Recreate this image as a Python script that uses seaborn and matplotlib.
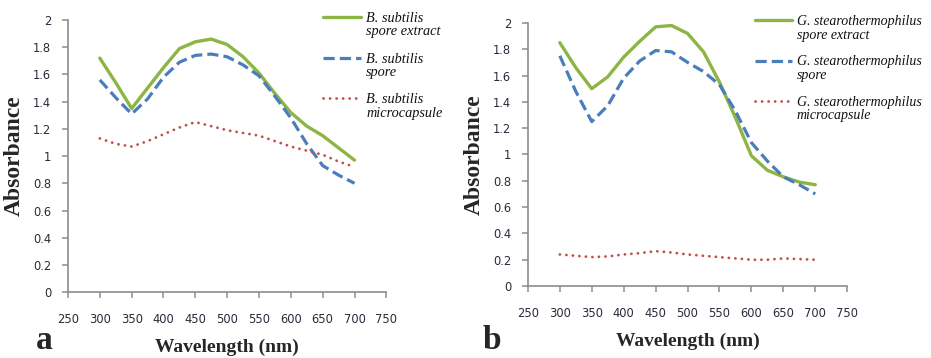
import numpy as np
import pandas as pd
import seaborn as sns
import matplotlib.pyplot as plt
from matplotlib.ticker import FormatStrFormatter

# wavelength grid (nm)
wavelength = [300, 325, 350, 375, 400, 425, 450, 475, 500, 525, 550, 575, 600, 625, 650, 675, 700]

# panel a: B. subtilis
a_extract = [1.72, 1.54, 1.35, 1.50, 1.65, 1.79, 1.84, 1.86, 1.82, 1.73, 1.61, 1.46, 1.32, 1.22, 1.15, 1.06, 0.97]
a_spore = [1.56, 1.43, 1.31, 1.42, 1.58, 1.69, 1.74, 1.75, 1.73, 1.67, 1.59, 1.44, 1.28, 1.09, 0.93, 0.86, 0.80]
a_micro = [1.13, 1.09, 1.07, 1.11, 1.16, 1.21, 1.25, 1.22, 1.19, 1.17, 1.15, 1.11, 1.07, 1.04, 1.01, 0.96, 0.92]

# panel b: G. stearothermophilus
b_extract = [1.85, 1.66, 1.50, 1.59, 1.74, 1.86, 1.97, 1.98, 1.92, 1.78, 1.55, 1.28, 0.99, 0.88, 0.83, 0.79, 0.77]
b_spore = [1.75, 1.48, 1.25, 1.37, 1.58, 1.71, 1.79, 1.78, 1.70, 1.63, 1.53, 1.33, 1.09, 0.95, 0.83, 0.77, 0.70]
b_micro = [0.24, 0.23, 0.22, 0.225, 0.24, 0.25, 0.265, 0.255, 0.24, 0.23, 0.22, 0.21, 0.20, 0.20, 0.21, 0.205, 0.20]

a_labels = ["B. subtilis\nspore extract", "B. subtilis\nspore", "B. subtilis\nmicrocapsule"]
b_labels = ["G. stearothermophilus\nspore extract", "G. stearothermophilus\nspore",
            "G. stearothermophilus\nmicrocapsule"]

colors = ["#8db543", "#4a7ebb", "#c0504d"]
styles = ["-", (0, (3.5, 1.6)), (0, (0.05, 2.3))]
widths = [2.4, 2.3, 2.0]

sns.set_style("ticks")
serif = ["Liberation Serif", "DejaVu Serif"]


def draw_panel(ax, series, labels, letter, letter_x, legend_x, legend_size):
    for vals, lab, col, ls, lw in zip(series, labels, colors, styles, widths):
        df = pd.DataFrame({"wavelength": wavelength, "abs": vals})
        sns.lineplot(data=df, x="wavelength", y="abs", ax=ax, color=col, label=lab,
                     linewidth=lw, linestyle=ls, solid_capstyle="round",
                     solid_joinstyle="round",
                     dash_capstyle="round" if ls == styles[2] else "butt")
    ax.set_xlim(250, 750)
    ax.set_ylim(0, 2)
    ax.set_xticks(np.arange(250, 751, 50))
    ax.set_yticks(np.arange(0, 2.01, 0.2))
    ax.yaxis.set_major_formatter(FormatStrFormatter("%g"))
    for sp in ["top", "right"]:
        ax.spines[sp].set_visible(False)
    for sp in ["left", "bottom"]:
        ax.spines[sp].set_color("#8c8c8c")
        ax.spines[sp].set_linewidth(1.2)
    ax.tick_params(axis="x", length=4, width=1.1, color="#8c8c8c", pad=11,
                   labelsize=8.3, labelcolor="#2a2a3a")
    ax.tick_params(axis="y", length=4, width=1.1, color="#8c8c8c", pad=8,
                   labelsize=8.3, labelcolor="#2a2a3a")
    ax.set_xlabel("Wavelength (nm)", family=serif, fontweight="bold", fontsize=14, labelpad=9)
    ax.set_ylabel("Absorbance", family=serif, fontweight="bold", fontsize=17, labelpad=6)
    leg = ax.legend(loc="upper left", bbox_to_anchor=(legend_x, 1.03), frameon=False,
                    prop={"family": "Liberation Serif", "style": "italic", "size": legend_size},
                    handlelength=2.7, handletextpad=0.35, labelspacing=1.0,
                    borderaxespad=0, borderpad=0)
    for t in leg.get_texts():
        t.set_linespacing(1.05)
        t.set_color("#111111")
    for line in leg.get_lines():
        line.set_ydata(np.asarray(line.get_ydata()) + 0.58 * legend_size)
    ax.figure.text(letter_x, 0.025, letter, family=serif, fontweight="bold", fontsize=24)


fig = plt.figure(figsize=(9.31, 3.58), dpi=100)
ax_a = fig.add_axes([0.073, 0.184, 0.342, 0.76])
ax_b = fig.add_axes([0.567, 0.201, 0.343, 0.735])

draw_panel(ax_a, [a_extract, a_spore, a_micro], a_labels, "a", 0.038, 0.80, 10.3)
draw_panel(ax_b, [b_extract, b_spore, b_micro], b_labels, "b", 0.518, 0.71, 10.0)

fig.savefig("out.png", dpi=100)
